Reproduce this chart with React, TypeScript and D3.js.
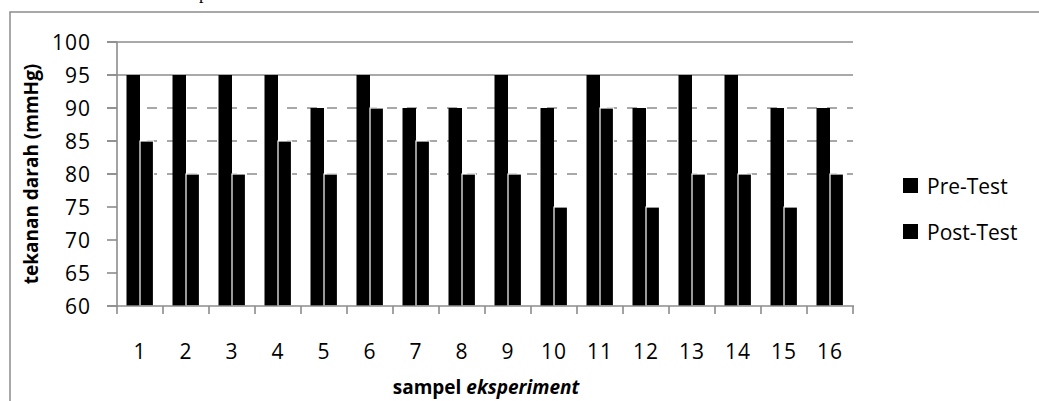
import React from 'react';
import * as d3 from 'd3';

const categories = ['1', '2', '3', '4', '5', '6', '7', '8', '9', '10', '11', '12', '13', '14', '15', '16'];
const preTest = [95, 95, 95, 95, 90, 95, 90, 90, 95, 90, 95, 90, 95, 95, 90, 90];
const postTest = [85, 80, 80, 85, 80, 90, 85, 80, 80, 75, 90, 75, 80, 80, 75, 80];
const yTicks = [60, 65, 70, 75, 80, 85, 90, 95, 100];
const dashedGrid = [80, 85, 90];
const solidGrid = [95, 100];
const seriesNames = ['Pre-Test', 'Post-Test'];

const FONT = '"Open Sans", "Liberation Sans", sans-serif';
const GRAY = '#8c8c8c';

const App: React.FC = () => {
  const width = 1039;
  const height = 401;
  const left = 117;
  const right = 853;
  const top = 42;
  const bottom = 306;

  const x = d3.scaleBand<string>().domain(categories).range([left, right]).padding(0);
  const x1 = d3.scaleBand<string>().domain(seriesNames).range([9.5, 36.5]).padding(0);
  const y = d3.scaleLinear().domain([60, 100]).range([bottom, top]);

  const rows = categories.map((c, i) => ({ c, pre: preTest[i], post: postTest[i] }));

  return (
    <svg
      width={width}
      height={height}
      style={{ position: 'absolute', left: 0, top: 0, background: '#fff' }}
    >
      <rect x={0} y={0} width={width} height={height} fill="#fff" />
      {/* clipped caption above the chart */}
      <text x={199} y={-1} fontFamily='"Liberation Serif", serif' fontSize={18} fill="#000">
        p
      </text>
      {/* chart area border */}
      <path d={`M10,${height + 2} L10,12 L${width + 2},12`} fill="none" stroke={GRAY} strokeWidth={1.5} />

      {/* gridlines */}
      {dashedGrid.map((v) => (
        <line
          key={'d' + v}
          x1={107}
          x2={right}
          y1={y(v)}
          y2={y(v)}
          stroke={GRAY}
          strokeWidth={1.6}
          strokeDasharray="10,10"
        />
      ))}
      {solidGrid.map((v) => (
        <line key={'s' + v} x1={107} x2={right} y1={y(v)} y2={y(v)} stroke={GRAY} strokeWidth={1.6} />
      ))}

      {/* y ticks */}
      {yTicks.map((v) => (
        <g key={'yt' + v}>
          <line x1={107} x2={left} y1={y(v)} y2={y(v)} stroke={GRAY} strokeWidth={1.6} />
          <text
            x={91}
            y={y(v)}
            dy="0.36em"
            textAnchor="end"
            fontFamily={FONT}
            fontSize={21}
            letterSpacing={1}
            fill="#000"
          >
            {v}
          </text>
        </g>
      ))}

      {/* bars */}
      {rows.map((r) => {
        const x0 = x(r.c) as number;
        return (
          <g key={'b' + r.c}>
            <rect
              x={x0 + (x1('Pre-Test') as number)}
              y={y(r.pre)}
              width={x1.bandwidth()}
              height={bottom - y(r.pre)}
              fill="#000"
            />
            <rect
              x={x0 + (x1('Post-Test') as number)}
              y={y(r.post)}
              width={x1.bandwidth()}
              height={bottom - y(r.post)}
              fill="#000"
              stroke="#fff"
              strokeWidth={1.2}
            />
          </g>
        );
      })}

      {/* axes */}
      <line x1={left} x2={left} y1={top} y2={bottom} stroke={GRAY} strokeWidth={1.6} />
      <line x1={107} x2={right + 1} y1={bottom} y2={bottom} stroke={GRAY} strokeWidth={1.6} />
      {categories.concat(['end']).map((c, i) => {
        const xx = left + i * x.bandwidth();
        return <line key={'xt' + i} x1={xx} x2={xx} y1={bottom} y2={bottom + 8} stroke={GRAY} strokeWidth={1.6} />;
      })}
      {categories.map((c) => (
        <text
          key={'xl' + c}
          x={(x(c) as number) + x.bandwidth() / 2}
          y={359}
          textAnchor="middle"
          fontFamily={FONT}
          fontSize={21}
          letterSpacing={1}
          fill="#000"
        >
          {c}
        </text>
      ))}

      {/* axis titles */}
      <text
        transform={`translate(38, ${(top + bottom) / 2}) rotate(-90)`}
        textAnchor="middle"
        fontFamily={FONT}
        fontWeight="bold"
        fontSize={19}
        fill="#000"
      >
        tekanan darah (mmHg)
      </text>
      <text x={486} y={394} textAnchor="middle" fontFamily={FONT} fontWeight="bold" fontSize={19} fill="#000">
        sampel <tspan fontStyle="italic">eksperiment</tspan>
      </text>

      {/* legend */}
      {seriesNames.map((s, i) => (
        <g key={'lg' + s} transform={`translate(903, ${178 + i * 46})`}>
          <rect x={0} y={0} width={15} height={15} fill="#000" />
          <text x={24} y={16} fontFamily={FONT} fontSize={21} fill="#000">
            {s}
          </text>
        </g>
      ))}
    </svg>
  );
};

export default App;
